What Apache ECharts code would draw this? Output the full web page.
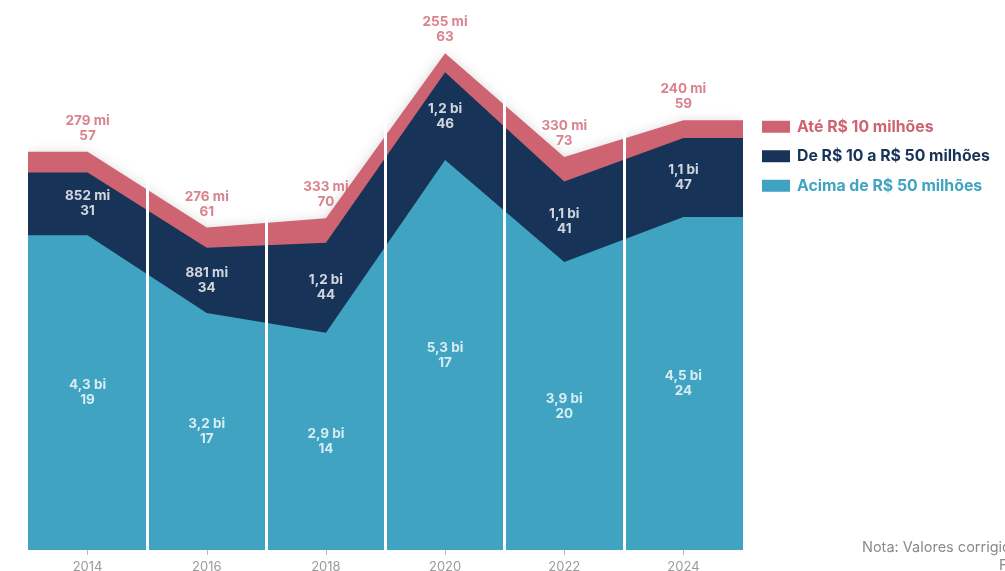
<!DOCTYPE html>
<html>
<head>
<meta charset="utf-8">
<script src="https://cdn.jsdelivr.net/npm/echarts@6/dist/echarts.min.js"></script>
<style>
  html, body { margin: 0; padding: 0; background: #fff; }
  #chart { width: 1005px; height: 571px; }
</style>
</head>
<body>
<div id="chart"></div>
<script>
// anos (pontos centrais de cada faixa)
const years = [2014, 2016, 2018, 2020, 2022, 2024];
// valores em milhões de R$ (estimados do gráfico)
const acima50 = [4260, 3210, 2940, 5280, 3900, 4510];
const de10a50 = [852, 881, 1220, 1190, 1090, 1070];
const ate10 = [279, 276, 333, 255, 330, 240];
// textos dos rótulos
const acima50Txt = ['4,3 bi', '3,2 bi', '2,9 bi', '5,3 bi', '3,9 bi', '4,5 bi'];
const de10a50Txt = ['852 mi', '881 mi', '1,2 bi', '1,2 bi', '1,1 bi', '1,1 bi'];
const ate10Txt = ['279 mi', '276 mi', '333 mi', '255 mi', '330 mi', '240 mi'];
// quantidade
const acima50Qtd = [19, 17, 14, 17, 20, 24];
const de10a50Qtd = [31, 34, 44, 46, 41, 47];
const ate10Qtd = [57, 61, 70, 63, 73, 59];
// divisórias brancas entre as faixas
const divisores = [2015, 2017, 2019, 2021, 2023];

const names = ['Até R$ 10 milhões', 'De R$ 10 a R$ 50 milhões', 'Acima de R$ 50 milhões'];
const colors = { pink: '#CE6471', navy: '#183358', teal: '#3FA3C1' };
const xMin = 2013, xMax = 2025;

// acumulados (empilhamento manual, eixo x numérico)
const cumTeal = acima50.slice();
const cumNavy = acima50.map((v, i) => v + de10a50[i]);
const cumPink = cumNavy.map((v, i) => v + ate10[i]);

// a área se estende meia faixa para cada lado
function pad(vals) {
  const d = years.map((y, i) => [y, vals[i]]);
  return [[xMin, vals[0]], ...d, [xMax, vals[vals.length - 1]]];
}

const font = 'Inter, "Noto Sans", sans-serif';

function areaSeries(name, vals, color, shadow) {
  const area = { color: color, opacity: 1 };
  if (shadow) {
    Object.assign(area, { shadowBlur: 14, shadowColor: 'rgba(0,0,0,0.2)', shadowOffsetY: 3 });
  }
  return {
    name: name,
    type: 'line',
    data: pad(vals),
    showSymbol: false,
    symbol: 'none',
    lineStyle: { width: 0 },
    itemStyle: { color: color },
    areaStyle: area,
    silent: true
  };
}

const tealLabels = years.map((y, i) => [y, acima50[i] / 2, acima50Txt[i] + '\n' + acima50Qtd[i]]);
const navyLabels = years.map((y, i) => [y, acima50[i] + de10a50[i] / 2, de10a50Txt[i] + '\n' + de10a50Qtd[i]]);
const pinkLabels = years.map((y, i) => [y, cumPink[i], ate10Txt[i] + '\n' + ate10Qtd[i]]);

function labelSeries(data, color, position, distance) {
  return {
    type: 'scatter',
    data: data,
    symbolSize: 1,
    itemStyle: { color: 'rgba(0,0,0,0)' },
    silent: true,
    z: 10,
    label: {
      show: true,
      position: position,
      distance: distance,
      formatter: p => p.data[2],
      color: color,
      fontFamily: font,
      fontWeight: 'bold',
      fontSize: 13.5,
      lineHeight: 15,
      align: 'center'
    }
  };
}

const chart = echarts.init(document.getElementById('chart'));
chart.setOption({
  animation: false,
  backgroundColor: '#fff',
  grid: { left: 28, right: 262, top: 33, bottom: 21, outerBoundsMode: 'none', containLabel: false },
  xAxis: {
    type: 'value',
    min: xMin,
    max: xMax,
    interval: 1,
    splitLine: { show: false },
    axisLine: { show: false },
    axisTick: { show: true, customValues: years, length: 5, lineStyle: { color: '#bbb' } },
    axisLabel: {
      customValues: years,
      color: '#9a9a9a',
      fontFamily: font,
      fontSize: 13,
      margin: 11,
      formatter: v => String(v)
    }
  },
  yAxis: {
    type: 'value',
    min: 0,
    max: 7000,
    show: false,
    splitLine: { show: false }
  },
  legend: {
    orient: 'vertical',
    left: 757,
    top: 113,
    itemWidth: 28,
    itemHeight: 12,
    itemGap: 12,
    icon: 'rect',
    selectedMode: false,
    textStyle: { fontFamily: font, fontSize: 15.8, fontWeight: 'bold', lineHeight: 17.5, padding: [0, 0, 0, 2] },
    data: [
      { name: names[0], textStyle: { color: colors.pink } },
      { name: names[1], textStyle: { color: colors.navy } },
      { name: names[2], textStyle: { color: colors.teal } }
    ]
  },
  graphic: [
    {
      type: 'text',
      left: 862,
      top: 540,
      style: { text: 'Nota: Valores corrigidos pela inflação', fill: '#8a8a8a', font: '14.5px ' + font }
    },
    {
      type: 'text',
      left: 999,
      top: 558,
      style: { text: 'Fonte: BNDES', fill: '#8a8a8a', font: '14.5px ' + font }
    }
  ],
  series: [
    areaSeries(names[0], cumPink, colors.pink, true),
    areaSeries(names[1], cumNavy, colors.navy, false),
    Object.assign(areaSeries(names[2], cumTeal, colors.teal, false), {
      markLine: {
        silent: true,
        symbol: 'none',
        label: { show: false },
        lineStyle: { color: '#fff', width: 3, type: 'solid' },
        data: divisores.map(x => ({ xAxis: x }))
      }
    }),
    labelSeries(tealLabels, '#fff', 'inside', 0),
    labelSeries(navyLabels, '#fff', 'inside', 0),
    labelSeries(pinkLabels, colors.pink, 'top', 8)
  ]
});
</script>
</body>
</html>
